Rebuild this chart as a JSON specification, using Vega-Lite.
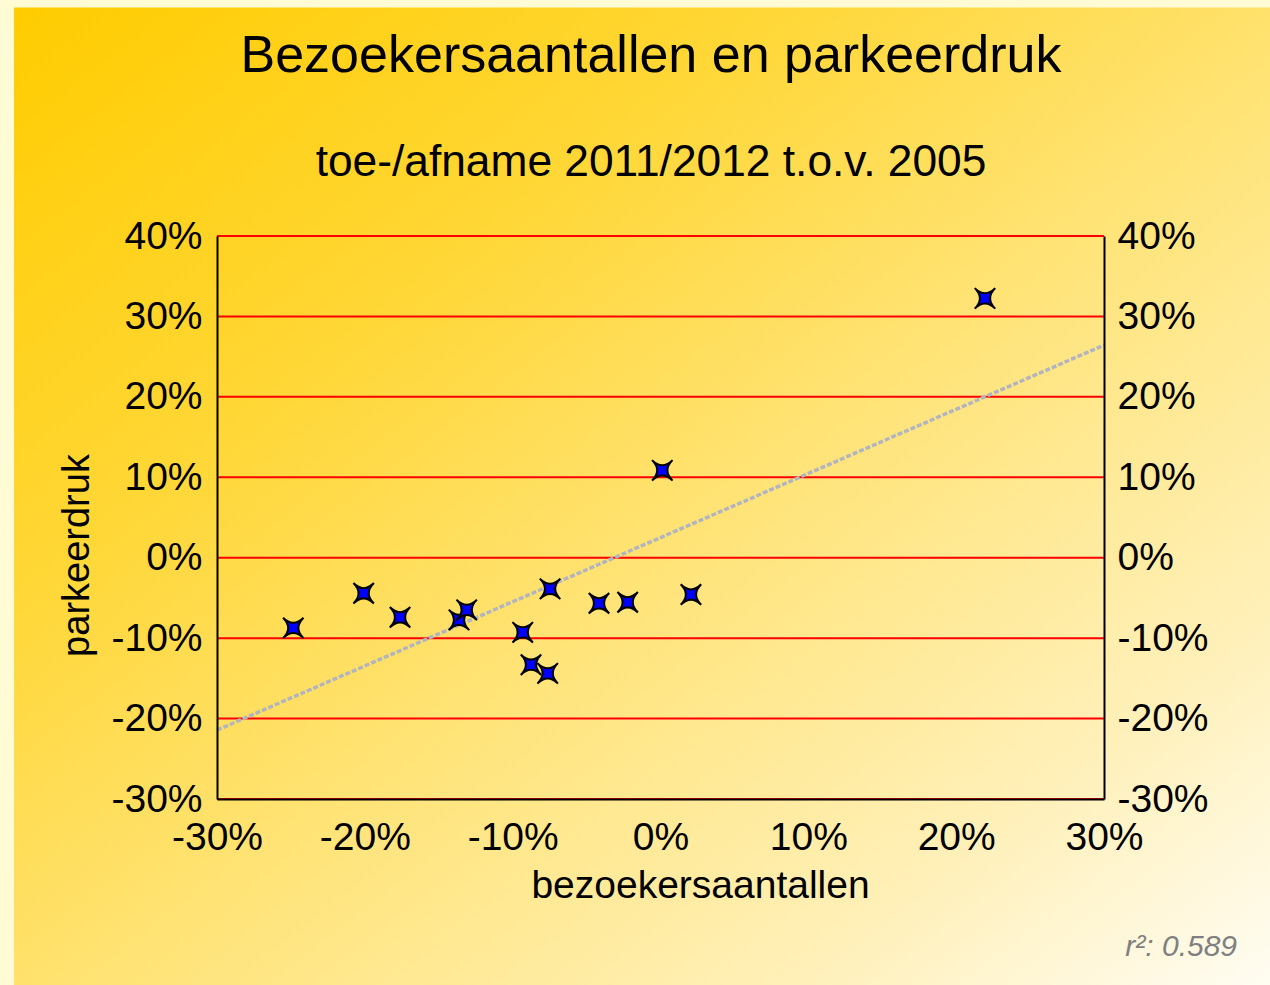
{
  "$schema": "https://vega.github.io/schema/vega-lite/v6.json",
  "autosize": "none",
  "width": 887,
  "height": 563,
  "padding": {"left": 217, "top": 236, "right": 166, "bottom": 186},
  "background": "#FFFCD5",
  "config": {
    "font": "Liberation Sans",
    "view": {"stroke": null}
  },
  "title": {
    "text": "Bezoekersaantallen en parkeerdruk",
    "subtitle": "toe-/afname 2011/2012 t.o.v. 2005",
    "font": "Liberation Sans",
    "fontSize": 52,
    "fontWeight": "normal",
    "color": "#000000",
    "subtitleFont": "Liberation Sans",
    "subtitleFontSize": 44.3,
    "subtitleColor": "#000000",
    "subtitlePadding": 58,
    "offset": -179,
    "anchor": "middle",
    "frame": "group",
    "dx": -9.5,
    "zindex": 1
  },
  "datasets": {
    "points": [
      {"bezoekers": -24.84, "parkeerdruk": -8.73},
      {"bezoekers": -20.08, "parkeerdruk": -4.42},
      {"bezoekers": -17.62, "parkeerdruk": -7.41},
      {"bezoekers": -13.63, "parkeerdruk": -7.73},
      {"bezoekers": -13.11, "parkeerdruk": -6.49},
      {"bezoekers": -9.32, "parkeerdruk": -9.28},
      {"bezoekers": -8.76, "parkeerdruk": -13.3},
      {"bezoekers": -7.63, "parkeerdruk": -14.38},
      {"bezoekers": -7.47, "parkeerdruk": -3.87},
      {"bezoekers": -4.16, "parkeerdruk": -5.67},
      {"bezoekers": -2.22, "parkeerdruk": -5.54},
      {"bezoekers": 0.12, "parkeerdruk": 10.86},
      {"bezoekers": 2.06, "parkeerdruk": -4.58},
      {"bezoekers": 21.95, "parkeerdruk": 32.24}
    ],
    "trend": [
      {"bezoekers": -30, "parkeerdruk": -21.43},
      {"bezoekers": 30, "parkeerdruk": 26.43}
    ],
    "grid": [
      {"g": -30}, {"g": -20}, {"g": -10}, {"g": 0}, {"g": 10}, {"g": 20}, {"g": 30}, {"g": 40}
    ],
    "note": [
      {"label": "r²: 0.589", "bezoekers": 39.0, "parkeerdruk": -49.5}
    ]
  },
  "resolve": {"scale": {"y": "independent"}, "axis": {"x": "shared"}},
  "layer": [
    {
      "data": {"values": [{}]},
      "mark": {
        "type": "rect",
        "stroke": null,
        "fill": {
          "gradient": "linear",
          "x1": 0, "y1": 0, "x2": 1, "y2": 1,
          "stops": [
            {"offset": 0, "color": "#FFCC00"},
            {"offset": 0.3, "color": "#FFD736"},
            {"offset": 0.55, "color": "#FFE47A"},
            {"offset": 0.8, "color": "#FFF0B8"},
            {"offset": 1, "color": "#FFFDF5"}
          ]
        }
      },
      "encoding": {
        "x": {"datum": -43.73, "type": "quantitative", "scale": {"domain": [-30, 30], "nice": false, "zero": false},
          "axis": {"orient": "bottom", "values": [-30, -20, -10, 0, 10, 20, 30], "labelExpr": "datum.value + '%'", "labelFont": "Liberation Sans", "labelFontSize": 39, "labelColor": "#000000", "labelPadding": 19, "labelFlush": false, "labelOverlap": false, "ticks": false, "tickSize": 0, "grid": false, "domainColor": "#000000", "domainWidth": 2, "title": "bezoekersaantallen", "titleFont": "Liberation Sans", "titleFontSize": 39, "titleFontWeight": "normal", "titleColor": "#000000", "titleX": 483, "titleY": 98, "titleAlign": "center", "titleBaseline": "alphabetic", "zindex": 1}
        },
        "x2": {"datum": 42},
        "y": {"datum": 68.4, "type": "quantitative", "scale": {"domain": [-30, 40], "nice": false, "zero": false}, "axis": null},
        "y2": {"datum": -54}
      }
    },
    {
      "data": {"name": "grid"},
      "mark": {"type": "rule", "color": "#FF0000", "strokeWidth": 2},
      "encoding": {
        "y": {"field": "g", "type": "quantitative", "scale": {"domain": [-30, 40], "nice": false, "zero": false}, "axis": null}
      }
    },
    {
      "data": {"name": "trend"},
      "mark": {"type": "line", "color": "#B2B5BF", "strokeWidth": 3.5, "strokeDash": [5, 2]},
      "encoding": {
        "x": {"field": "bezoekers", "type": "quantitative", "scale": {"domain": [-30, 30], "nice": false, "zero": false},
          "axis": {"orient": "bottom", "values": [-30, -20, -10, 0, 10, 20, 30], "labelExpr": "datum.value + '%'", "labelFont": "Liberation Sans", "labelFontSize": 39, "labelColor": "#000000", "labelPadding": 19, "labelFlush": false, "labelOverlap": false, "ticks": false, "tickSize": 0, "grid": false, "domainColor": "#000000", "domainWidth": 2, "title": "bezoekersaantallen", "titleFont": "Liberation Sans", "titleFontSize": 39, "titleFontWeight": "normal", "titleColor": "#000000", "titleX": 483, "titleY": 98, "titleAlign": "center", "titleBaseline": "alphabetic", "zindex": 1}
        },
        "y": {
          "field": "parkeerdruk", "type": "quantitative",
          "scale": {"domain": [-30, 40], "nice": false, "zero": false},
          "axis": {
            "orient": "right",
            "values": [-30, -20, -10, 0, 10, 20, 30, 40],
            "labelExpr": "datum.value + '%'",
            "labelFont": "Liberation Sans",
            "labelFontSize": 39,
            "labelColor": "#000000",
            "labelPadding": 13,
            "labelFlush": false,
            "labelOverlap": false,
            "ticks": false,
            "tickSize": 0,
            "grid": false,
            "domainColor": "#000000",
            "domainWidth": 2,
            "title": null,
            "zindex": 1
          }
        }
      }
    },
    {
      "data": {"name": "points"},
      "mark": {
        "type": "point",
        "shape": "M-1,-1 Q0,0 1,-1 Q0,0 1,1 Q0,0 -1,1 Q0,0 -1,-1 Z",
        "filled": true,
        "fill": "#0000FF",
        "stroke": "#000000",
        "strokeWidth": 2,
        "size": 420,
        "opacity": 1
      },
      "encoding": {
        "x": {
          "field": "bezoekers", "type": "quantitative",
          "scale": {"domain": [-30, 30], "nice": false, "zero": false},
          "axis": {"orient": "bottom", "values": [-30, -20, -10, 0, 10, 20, 30], "labelExpr": "datum.value + '%'", "labelFont": "Liberation Sans", "labelFontSize": 39, "labelColor": "#000000", "labelPadding": 19, "labelFlush": false, "labelOverlap": false, "ticks": false, "tickSize": 0, "grid": false, "domainColor": "#000000", "domainWidth": 2, "title": "bezoekersaantallen", "titleFont": "Liberation Sans", "titleFontSize": 39, "titleFontWeight": "normal", "titleColor": "#000000", "titleX": 483, "titleY": 98, "titleAlign": "center", "titleBaseline": "alphabetic", "zindex": 1}
        },
        "y": {
          "field": "parkeerdruk", "type": "quantitative",
          "scale": {"domain": [-30, 40], "nice": false, "zero": false},
          "axis": {
            "orient": "left",
            "values": [-30, -20, -10, 0, 10, 20, 30, 40],
            "labelExpr": "datum.value + '%'",
            "labelFont": "Liberation Sans",
            "labelFontSize": 39,
            "labelColor": "#000000",
            "labelPadding": 15,
            "labelFlush": false,
            "labelOverlap": false,
            "ticks": false,
            "tickSize": 0,
            "grid": false,
            "domainColor": "#000000",
            "domainWidth": 2,
            "title": "parkeerdruk",
            "titleFont": "Liberation Sans",
            "titleFontSize": 38,
            "titleFontWeight": "normal",
            "titleColor": "#000000",
            "titleAngle": 270,
            "titleX": -129,
            "titleY": 319,
            "titleAlign": "center",
            "titleBaseline": "alphabetic",
            "zindex": 1
          }
        }
      }
    },
    {
      "data": {"name": "note"},
      "mark": {"type": "text", "align": "right", "baseline": "alphabetic", "font": "Liberation Sans", "fontStyle": "italic", "fontSize": 30, "color": "#808080"},
      "encoding": {
        "x": {"field": "bezoekers", "type": "quantitative", "scale": {"domain": [-30, 30], "nice": false, "zero": false},
          "axis": {"orient": "bottom", "values": [-30, -20, -10, 0, 10, 20, 30], "labelExpr": "datum.value + '%'", "labelFont": "Liberation Sans", "labelFontSize": 39, "labelColor": "#000000", "labelPadding": 19, "labelFlush": false, "labelOverlap": false, "ticks": false, "tickSize": 0, "grid": false, "domainColor": "#000000", "domainWidth": 2, "title": "bezoekersaantallen", "titleFont": "Liberation Sans", "titleFontSize": 39, "titleFontWeight": "normal", "titleColor": "#000000", "titleX": 483, "titleY": 98, "titleAlign": "center", "titleBaseline": "alphabetic", "zindex": 1}
        },
        "y": {"field": "parkeerdruk", "type": "quantitative", "scale": {"domain": [-30, 40], "nice": false, "zero": false}, "axis": null},
        "text": {"field": "label"}
      }
    }
  ]
}
